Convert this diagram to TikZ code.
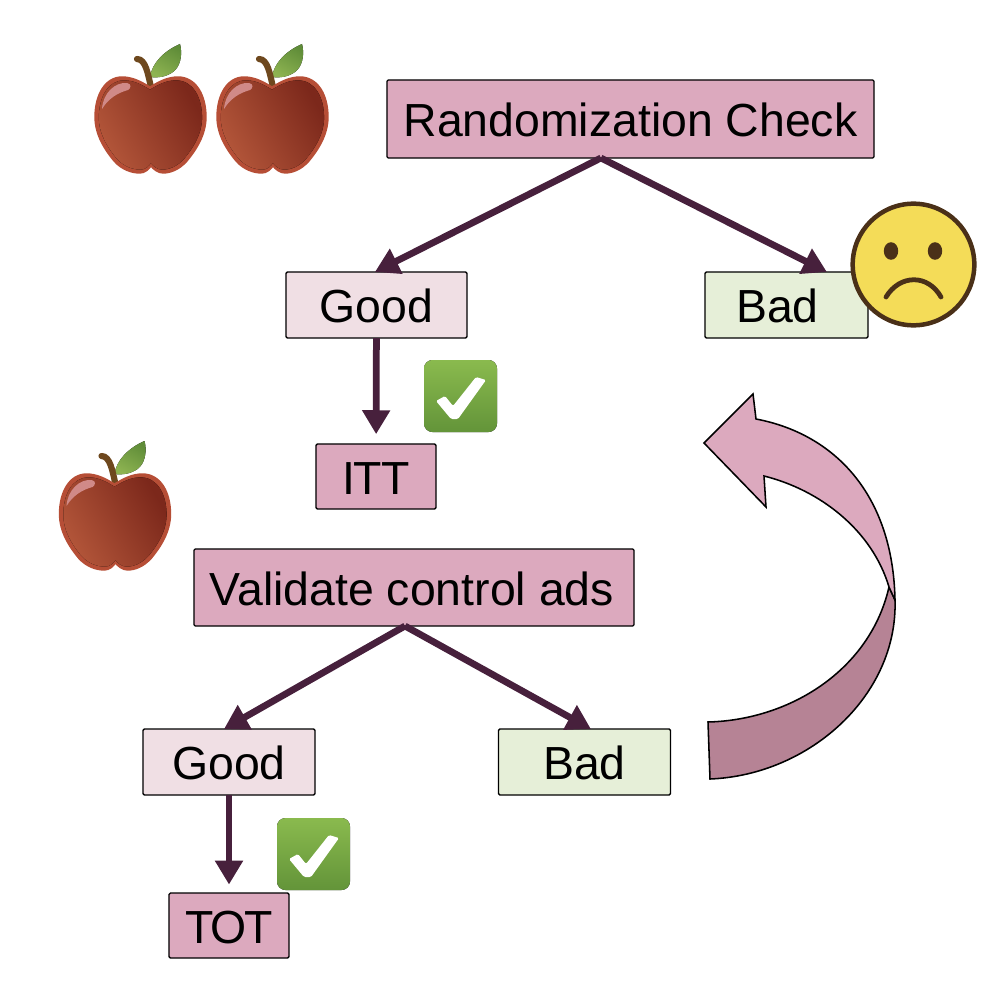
\documentclass[tikz,border=0pt]{standalone}
\usepackage{fontspec}
\setmainfont{Liberation Sans}
\usetikzlibrary{arrows.meta}

\definecolor{boxpink}{HTML}{DCA9BE}
\definecolor{boxpale}{HTML}{F0DFE4}
\definecolor{boxgreen}{HTML}{E6EFD8}
\definecolor{flowcol}{HTML}{47203C}
\definecolor{twistcol}{HTML}{B68395}
\definecolor{browncol}{HTML}{4A3018}
\definecolor{facecol}{HTML}{F4DC58}
\definecolor{stemcol}{HTML}{6E481E}
\definecolor{leaflight}{HTML}{8DB351}
\definecolor{leafdark}{HTML}{5F8C38}
\definecolor{rimcol}{HTML}{B64E36}
\definecolor{applelight}{HTML}{B25539}
\definecolor{appledark}{HTML}{7C281B}
\definecolor{glintcol}{HTML}{D08A88}
\definecolor{ticklight}{HTML}{8ABA4E}
\definecolor{tickdark}{HTML}{639439}

\tikzset{
	box/.style = {draw = black, line width = 0.9pt, rounded corners = 1pt, outer sep = 0pt, inner sep = 0pt, text height = 25pt, text depth = 0pt, font = \fontsize{33}{36}\selectfont},
	flow/.style = {->, draw = flowcol, line width = 4.8pt},
	pics/apple/.style = {code = {
		% Stem + leaf
		\fill [left color = leaflight, right color = leafdark, shading angle = 150] (0, -48) .. controls (2, -62) and (14, -74) .. (30, -81) .. controls (33, -70) and (30, -58) .. (23, -53) .. controls (16, -48) and (8, -47) .. (0, -48) -- cycle;
		\draw [line width = 4.4pt, line cap = round, draw = stemcol] (1, -38) .. controls (-2, -50) and (-4, -66) .. (-13, -66);
		% Body
		\filldraw [draw = rimcol, line width = 1pt, fill = rimcol] \applepath;
		\begin{scope}[scale = 0.93]
			\fill [left color = applelight, right color = appledark, shading angle = 120] \applepath;
		\end{scope}
		% Highlight
		\fill [glintcol] (-48, -16) .. controls (-47, -32) and (-35, -43) .. (-23, -42) .. controls (-18, -41) and (-19, -37) .. (-22, -35) .. controls (-33, -32) and (-42, -26) .. (-48, -16) -- cycle;
	}},
	pics/tick/.style = {code = {
		\fill [top color = ticklight, bottom color = tickdark, rounded corners = 6pt] (-36.5, -36) rectangle (36.5, 36);
		\fill [white, rounded corners = 1pt] (-24.5, 5) -- (-15.5, 0) -- (-7.5, 10) -- (15.5, -19) -- (25.5, -16) -- (-2.5, 23) -- (-9.5, 23) -- cycle;
	}},
}

\def\applepath{(0, -38) .. controls (-10, -44) and (-18, -48) .. (-28, -48) .. controls (-45, -48) and (-55, -30) .. (-55, -8) .. controls (-55, 10) and (-45, 25) .. (-36, 36) .. controls (-28, 45) and (-18, 48) .. (-10, 48) .. controls (-5, 48) and (-1, 44) .. (1, 41) .. controls (3, 44) and (8, 48) .. (13, 48) .. controls (20, 48) and (29, 45) .. (37, 36) .. controls (46, 25) and (56, 10) .. (56, -8) .. controls (56, -30) and (46, -48) .. (28, -48) .. controls (18, -48) and (10, -44) .. (0, -38) -- cycle}

\begin{document}
\begin{tikzpicture}[x = 0.025cm, y = -0.025cm, > = {Triangle[length = 17pt, width = 19pt]}]

	\useasboundingbox (0, 0) rectangle (980, 985);

	% Boxes

	\node [box, fill = boxpink, minimum width = 12.175cm, minimum height = 1.95cm] (check) at (630.5, 119) {Randomization Check};
	\node [box, fill = boxpale, minimum width = 4.525cm, minimum height = 1.65cm] (good1) at (376.5, 305) {Good};
	\node [box, fill = boxgreen, minimum width = 4.075cm, minimum height = 1.65cm] (bad1) at (786.5, 305) {Bad\hspace*{12.8pt}};
	\node [box, fill = boxpink, minimum width = 3cm, minimum height = 1.625cm] (itt) at (376, 476.5) {I\kern-1pt T\kern-0.5pt T};
	\node [box, fill = boxpink, minimum width = 11cm, minimum height = 1.925cm] (validate) at (414, 587.5) {\hspace*{-3pt}Validate control ads};
	\node [box, fill = boxpale, minimum width = 4.3cm, minimum height = 1.65cm] (good2) at (229, 762) {Good};
	\node [box, fill = boxgreen, minimum width = 4.3cm, minimum height = 1.65cm] (bad2) at (584.5, 762) {Bad};
	\node [box, fill = boxpink, minimum width = 3cm, minimum height = 1.625cm] (tot) at (229, 925.5) {T\kern-2pt O\kern-2pt T};

	% Fork points + arrow ends

	\coordinate (checkfork) at ([xshift = -0.74cm] check.south);
	\coordinate (goodtip) at ([xshift = -0.04cm] good1.north);
	\coordinate (badtip) at ([xshift = 1.01cm] bad1.north);
	\coordinate (validatefork) at ([xshift = -0.225cm] validate.south);
	\coordinate (goodtwotip) at ([xshift = -0.125cm] good2.north);
	\coordinate (badtwotip) at ([xshift = 0.16cm] bad2.north);

	% Connectors

	\draw [flow] (checkfork) -- (goodtip);
	\draw [flow] (checkfork) -- (badtip);
	\draw [flow, shorten > = 7pt] (good1) -- (itt);
	\draw [flow] (validatefork) -- (goodtwotip);
	\draw [flow] (validatefork) -- (badtwotip);
	\draw [flow, shorten > = 6pt] (good2) -- (tot);

	% Apples + ticks

	\foreach \X/\Y in {150/125, 272/125, 114.5/522}
	{
		\pic at (\X, \Y) {apple};
	}

	\foreach \X/\Y in {460.5/396, 313.5/854}
	{
		\pic at (\X, \Y) {tick};
	}

	% Sad face

	\filldraw [draw = browncol, line width = 3.2pt, fill = facecol] (913.5, 264.5) circle (1.52cm);
	\fill [browncol] (891, 251) ellipse (0.18cm and 0.22cm);
	\fill [browncol] (935, 251) ellipse (0.18cm and 0.22cm);
	\draw [browncol, line width = 3.4pt, line cap = round] (886, 297) .. controls (900, 274) and (928, 274) .. (941, 297);

	% Twisted return arrow

	\filldraw [draw = black, line width = 1.1pt, fill = twistcol] (895, 600) .. controls (898, 695) and (810, 775) .. (710, 779) -- (708, 722) .. controls (790, 720) and (870, 670) .. (889, 587) -- cycle;
	\filldraw [draw = black, line width = 1.1pt, fill = boxpink] (704, 443) -- (753, 394) -- (756, 419) .. controls (835, 434) and (893, 495) .. (895, 600) -- (889, 587) .. controls (872, 530) and (820, 490) .. (764, 476) -- (766, 507) -- cycle;

\end{tikzpicture}
\end{document}
